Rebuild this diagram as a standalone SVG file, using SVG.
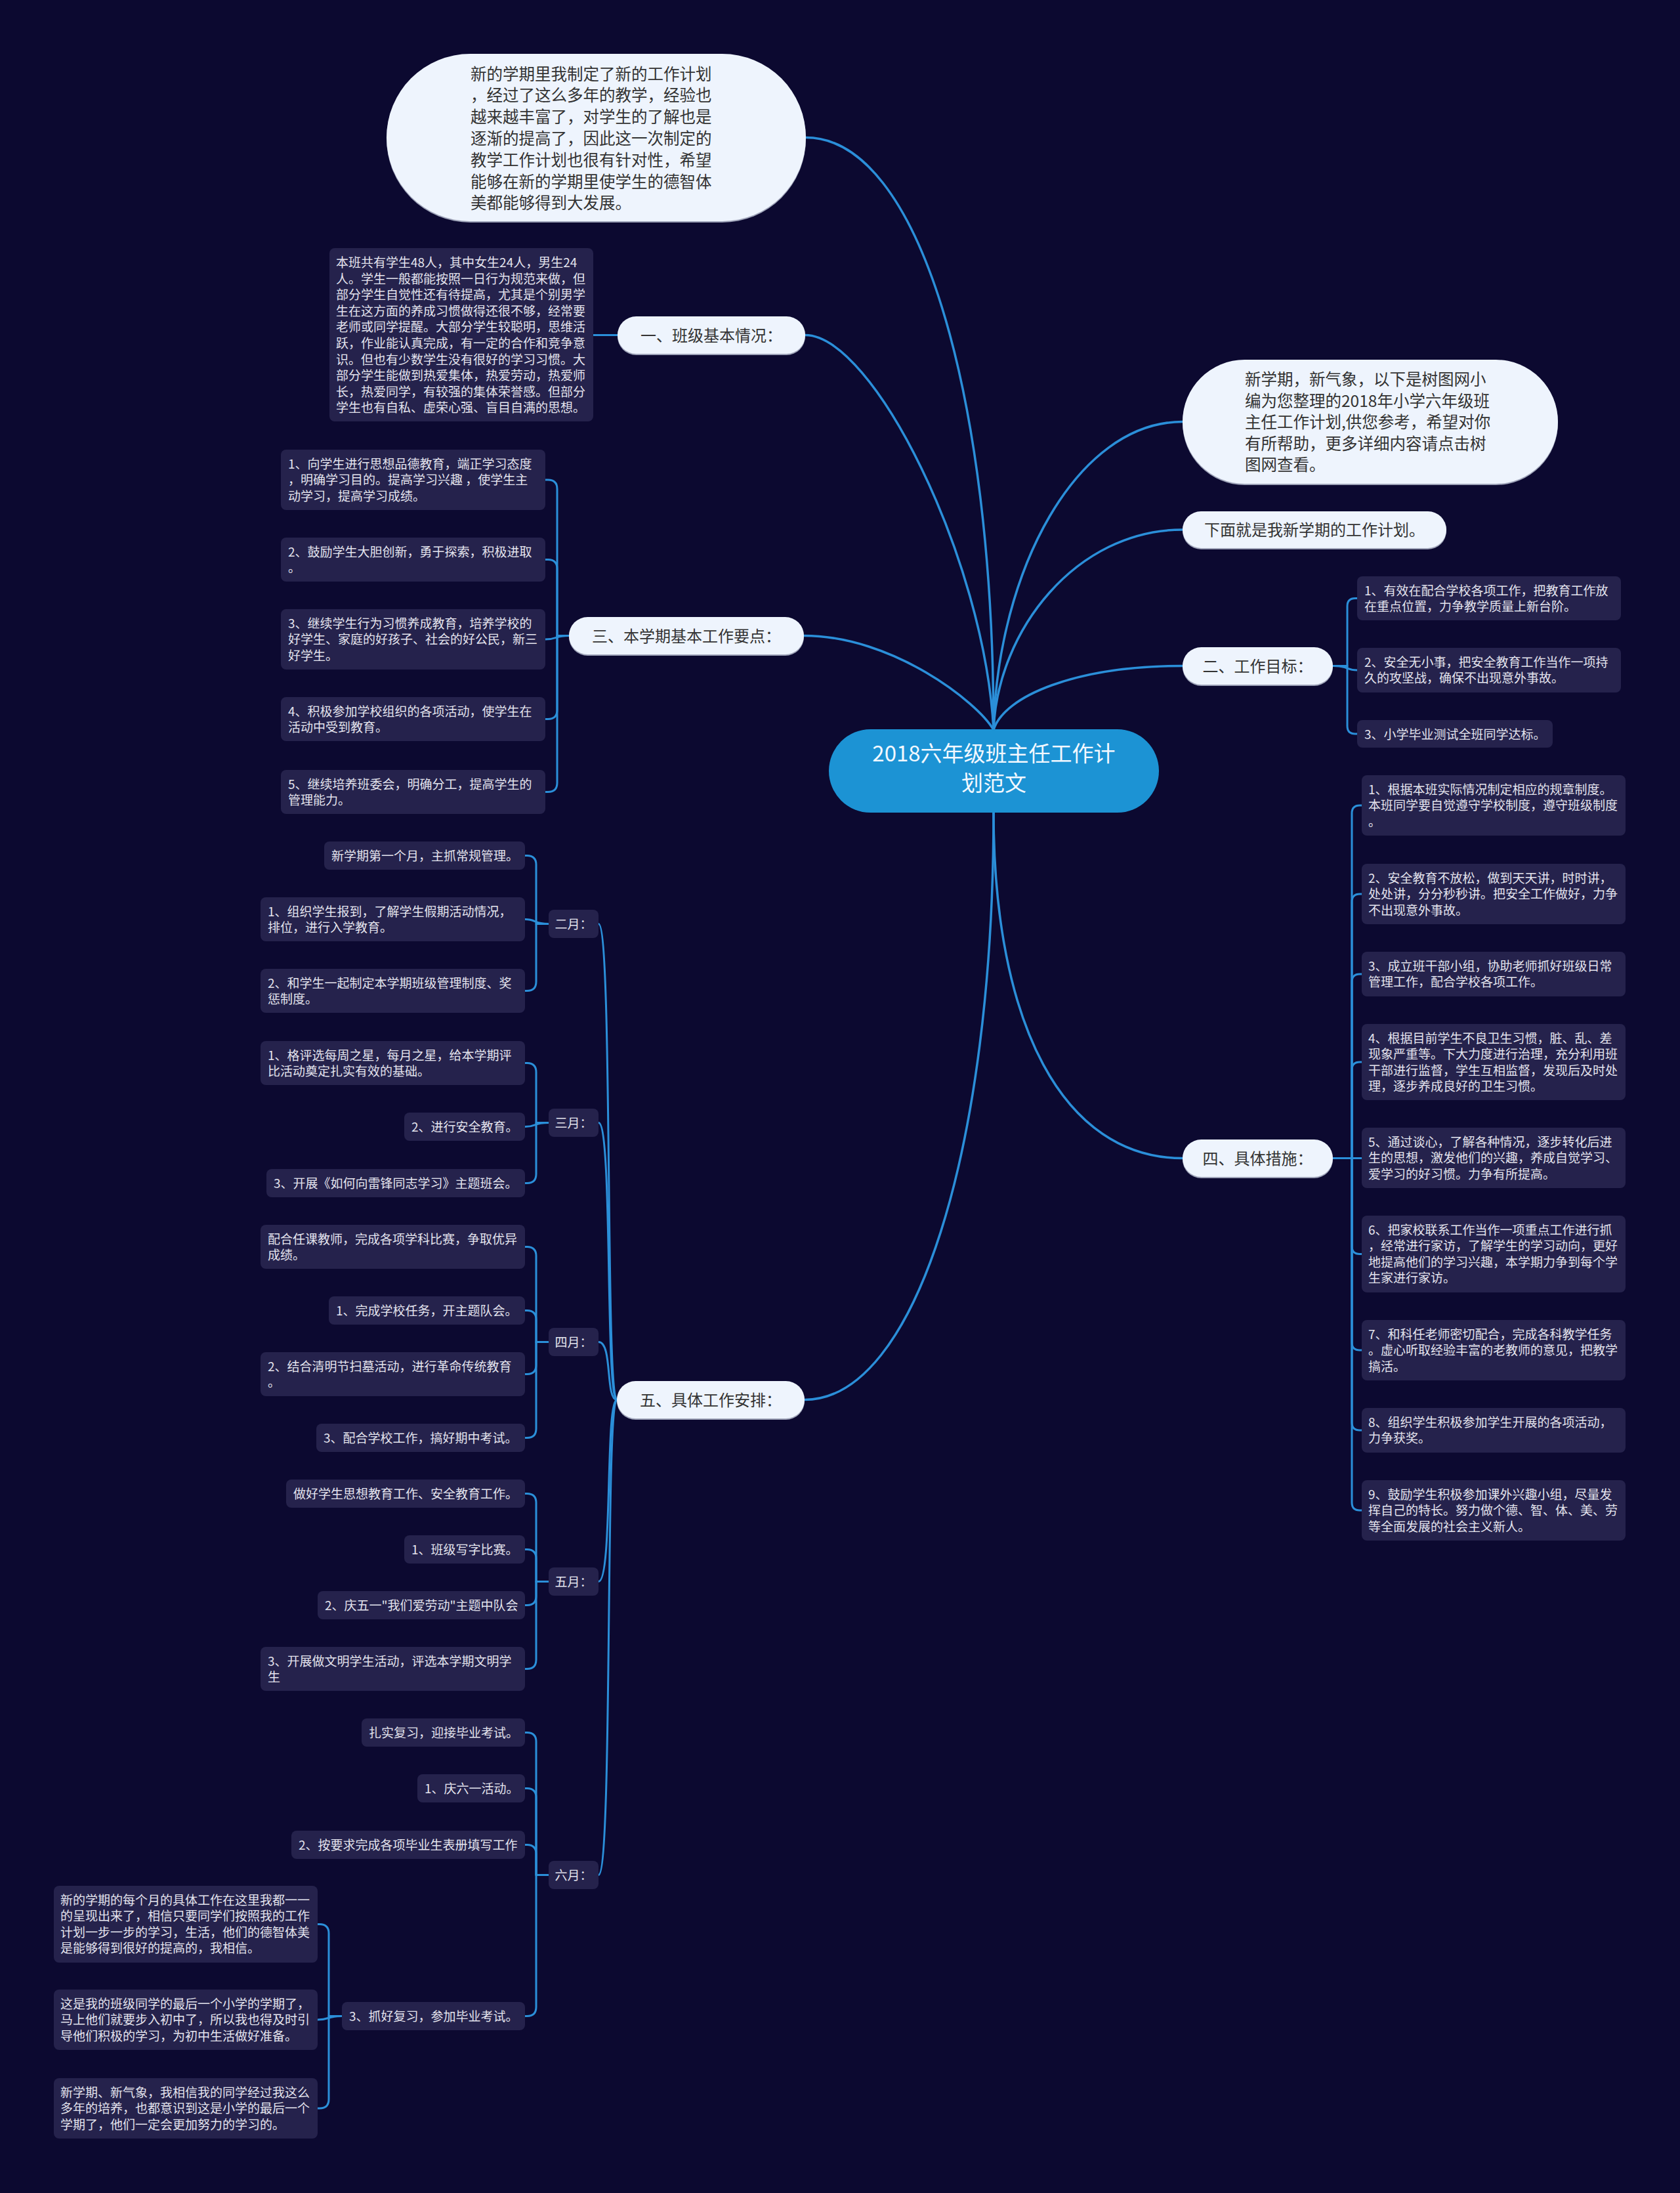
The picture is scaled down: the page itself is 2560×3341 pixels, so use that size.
<svg xmlns="http://www.w3.org/2000/svg" width="2560" height="3341" viewBox="0 0 2560 3341">
<style>
.bg{fill:#0c0930}
.card{fill:#25224c}
.ct{font-family:"Noto Sans CJK SC","Noto Sans",sans-serif;font-size:19px;fill:#e4e4ee}
.nd{fill:#eef4fd}
.sh{fill:#9ea3b8}
.nt{font-family:"Noto Sans CJK SC","Noto Sans",sans-serif;font-size:24px;fill:#333333}
.bt{font-family:"Noto Sans CJK SC","Noto Sans",sans-serif;font-size:24.5px;fill:#333333}
.mt{font-family:"Noto Sans CJK SC","Noto Sans",sans-serif;font-size:19px;fill:#e4e4ee;text-anchor:middle}
.ln{fill:none;stroke:#2b8fd9;stroke-width:3;stroke-linecap:round;stroke-linejoin:round}
.mn{fill:none;stroke:#2b8fd9;stroke-width:3.5;stroke-linecap:round}
</style>
<rect class="bg" x="0" y="0" width="2560" height="3341"/>

<g id="connectors">
<path class="mn" d="M1514 1112 C1514 600 1400 209.5 1228 209.5"/>
<path class="mn" d="M1514 1112 C1500 850 1330 510.5 1227 510.5"/>
<path class="mn" d="M1514 1112 C1490 1070 1360 968.5 1225 968.5"/>
<path class="mn" d="M1514 1112 C1520 870 1640 642.5 1802 642.5"/>
<path class="mn" d="M1514 1112 C1520 960 1640 807 1802 807"/>
<path class="mn" d="M1514 1112 C1530 1060 1640 1014.5 1802 1014.5"/>
<path class="mn" d="M1514 1237 C1514 1560 1620 1764.5 1802 1764.5"/>
<path class="mn" d="M1514 1237 C1514 1750 1395 2132.5 1226 2132.5"/>

<path class="ln" d="M904 510.5 H941"/>

<path class="ln" d="M867 968.5 H849 V745 Q849 731 835 731 H831"/>
<path class="ln" d="M867 968.5 H849 V866.5 Q849 852.5 835 852.5 H831"/>
<path class="ln" d="M867 968.5 C845 968.5 850 974 831 974"/>
<path class="ln" d="M867 968.5 H849 V1081.5 Q849 1095.5 835 1095.5 H831"/>
<path class="ln" d="M867 968.5 H849 V1192.5 Q849 1206.5 835 1206.5 H831"/>

<path class="ln" d="M940 2132.5 C922 2132.5 934 1407.5 912 1407.5"/>
<path class="ln" d="M940 2132.5 C922 2132.5 934 1710.5 912 1710.5"/>
<path class="ln" d="M940 2132.5 C922 2132.5 934 2044.5 912 2044.5"/>
<path class="ln" d="M940 2132.5 C922 2132.5 934 2409.5 912 2409.5"/>
<path class="ln" d="M940 2132.5 C922 2132.5 934 2856.5 912 2856.5"/>

<path class="ln" d="M836 1407.5 H817 V1317.5 Q817 1303.5 803 1303.5 H800"/>
<path class="ln" d="M836 1407.5 C812 1407.5 818 1400.5 800 1400.5"/>
<path class="ln" d="M836 1407.5 H817 V1495.5 Q817 1509.5 803 1509.5 H800"/>

<path class="ln" d="M836 1710.5 H817 V1633.5 Q817 1619.5 803 1619.5 H800"/>
<path class="ln" d="M836 1710.5 C812 1710.5 818 1716.5 800 1716.5"/>
<path class="ln" d="M836 1710.5 H817 V1788.5 Q817 1802.5 803 1802.5 H800"/>

<path class="ln" d="M836 2044.5 H817 V1913.5 Q817 1899.5 803 1899.5 H800"/>
<path class="ln" d="M836 2044.5 H817 V2010.5 Q817 1996.5 803 1996.5 H800"/>
<path class="ln" d="M836 2044.5 H817 V2079.5 Q817 2093.5 803 2093.5 H800"/>
<path class="ln" d="M836 2044.5 H817 V2176.5 Q817 2190.5 803 2190.5 H800"/>

<path class="ln" d="M836 2409.5 H817 V2289.5 Q817 2275.5 803 2275.5 H800"/>
<path class="ln" d="M836 2409.5 H817 V2374.5 Q817 2360.5 803 2360.5 H800"/>
<path class="ln" d="M836 2409.5 H817 V2431.5 Q817 2445.5 803 2445.5 H800"/>
<path class="ln" d="M836 2409.5 H817 V2528.5 Q817 2542.5 803 2542.5 H800"/>

<path class="ln" d="M836 2856.5 H817 V2653.5 Q817 2639.5 803 2639.5 H800"/>
<path class="ln" d="M836 2856.5 H817 V2738.5 Q817 2724.5 803 2724.5 H800"/>
<path class="ln" d="M836 2856.5 H817 V2824.5 Q817 2810.5 803 2810.5 H800"/>
<path class="ln" d="M836 2856.5 H817 V3057.5 Q817 3071.5 803 3071.5 H800"/>

<path class="ln" d="M521 3071.5 H501 V2945.5 Q501 2931.5 487 2931.5 H484"/>
<path class="ln" d="M521 3071.5 C497 3071.5 503 3077 484 3077"/>
<path class="ln" d="M521 3071.5 H501 V3198 Q501 3212 487 3212 H484"/>

<path class="ln" d="M2031 1014.5 H2053 V923.5 Q2053 911.5 2065 911.5 H2068"/>
<path class="ln" d="M2031 1014.5 C2056 1014.5 2050 1021 2068 1021"/>
<path class="ln" d="M2031 1014.5 H2053 V1106 Q2053 1118 2065 1118 H2068"/>

<path class="ln" d="M2031 1764.5 H2060 V1239 Q2060 1227 2072 1227 H2075"/>
<path class="ln" d="M2031 1764.5 H2060 V1374 Q2060 1362 2072 1362 H2075"/>
<path class="ln" d="M2031 1764.5 H2060 V1496 Q2060 1484 2072 1484 H2075"/>
<path class="ln" d="M2031 1764.5 H2060 V1630 Q2060 1618 2072 1618 H2075"/>
<path class="ln" d="M2031 1764.5 H2075"/>
<path class="ln" d="M2031 1764.5 H2060 V1898.5 Q2060 1910.5 2072 1910.5 H2075"/>
<path class="ln" d="M2031 1764.5 H2060 V2045 Q2060 2057 2072 2057 H2075"/>
<path class="ln" d="M2031 1764.5 H2060 V2167 Q2060 2179 2072 2179 H2075"/>
<path class="ln" d="M2031 1764.5 H2060 V2289 Q2060 2301 2072 2301 H2075"/>
</g>

<g id="center">
<rect x="1263" y="1111" width="503" height="127" rx="63.5" fill="#1c93d4"/>
<text x="1514.5" y="1160" font-family="Noto Sans CJK SC, Noto Sans, sans-serif" font-size="33" fill="#f2f8ff" text-anchor="middle">2018六年级班主任工作计</text>
<text x="1514.5" y="1205" font-family="Noto Sans CJK SC, Noto Sans, sans-serif" font-size="33" fill="#f2f8ff" text-anchor="middle">划范文</text>
</g>

<g id="bubble-top">
<rect class="sh" x="589" y="84" width="639" height="255" rx="127.5"/>
<rect class="nd" x="589" y="82" width="639" height="255" rx="127.5"/>
<text class="bt" x="717" y="121.5">新的学期里我制定了新的工作计划</text>
<text class="bt" x="717" y="154.3">，经过了这么多年的教学，经验也</text>
<text class="bt" x="717" y="187.1">越来越丰富了，对学生的了解也是</text>
<text class="bt" x="717" y="219.9">逐渐的提高了，因此这一次制定的</text>
<text class="bt" x="717" y="252.7">教学工作计划也很有针对性，希望</text>
<text class="bt" x="717" y="285.5">能够在新的学期里使学生的德智体</text>
<text class="bt" x="717" y="318.3">美都能够得到大发展。</text>
</g>

<g id="node-1">
<rect class="sh" x="941" y="484" width="286" height="57" rx="28.5"/>
<rect class="nd" x="941" y="482" width="286" height="57" rx="28.5"/>
<text class="nt" x="1084" y="519.5" text-anchor="middle">一、班级基本情况：</text>
</g>
<g id="node-1-text">
<rect class="card" x="502" y="378" width="402" height="264" rx="8"/>
<text class="ct" x="512" y="407">本班共有学生48人，其中女生24人，男生24</text>
<text class="ct" x="512" y="431.6">人。学生一般都能按照一日行为规范来做，但</text>
<text class="ct" x="512" y="456.2">部分学生自觉性还有待提高，尤其是个别男学</text>
<text class="ct" x="512" y="480.8">生在这方面的养成习惯做得还很不够，经常要</text>
<text class="ct" x="512" y="505.4">老师或同学提醒。大部分学生较聪明，思维活</text>
<text class="ct" x="512" y="530">跃，作业能认真完成，有一定的合作和竞争意</text>
<text class="ct" x="512" y="554.6">识。但也有少数学生没有很好的学习习惯。大</text>
<text class="ct" x="512" y="579.2">部分学生能做到热爱集体，热爱劳动，热爱师</text>
<text class="ct" x="512" y="603.8">长，热爱同学，有较强的集体荣誉感。但部分</text>
<text class="ct" x="512" y="628.4">学生也有自私、虚荣心强、盲目自满的思想。</text>
</g>

<g id="node-3">
<rect class="sh" x="867" y="942" width="358" height="57" rx="28.5"/>
<rect class="nd" x="867" y="940" width="358" height="57" rx="28.5"/>
<text class="nt" x="1046" y="977.5" text-anchor="middle">三、本学期基本工作要点：</text>
</g>
<g id="node-3-1">
<rect class="card" x="428" y="685" width="403" height="92" rx="8"/>
<text class="ct" x="439" y="713.5">1、向学生进行思想品德教育，端正学习态度</text>
<text class="ct" x="439" y="738">，明确学习目的。提高学习兴趣 ，使学生主</text>
<text class="ct" x="439" y="762.5">动学习，提高学习成绩。</text>
</g>
<g id="node-3-2">
<rect class="card" x="428" y="819" width="403" height="67" rx="8"/>
<text class="ct" x="439" y="847.5">2、鼓励学生大胆创新，勇于探索，积极进取</text>
<text class="ct" x="439" y="872">。</text>
</g>
<g id="node-3-3">
<rect class="card" x="428" y="928" width="403" height="92" rx="8"/>
<text class="ct" x="439" y="956.5">3、继续学生行为习惯养成教育，培养学校的</text>
<text class="ct" x="439" y="981">好学生、家庭的好孩子、社会的好公民，新三</text>
<text class="ct" x="439" y="1005.5">好学生。</text>
</g>
<g id="node-3-4">
<rect class="card" x="428" y="1062" width="403" height="67" rx="8"/>
<text class="ct" x="439" y="1090.5">4、积极参加学校组织的各项活动，使学生在</text>
<text class="ct" x="439" y="1115">活动中受到教育。</text>
</g>
<g id="node-3-5">
<rect class="card" x="428" y="1173" width="403" height="67" rx="8"/>
<text class="ct" x="439" y="1201.5">5、继续培养班委会，明确分工，提高学生的</text>
<text class="ct" x="439" y="1226">管理能力。</text>
</g>

<g id="node-5">
<rect class="sh" x="940" y="2106" width="286" height="57" rx="28.5"/>
<rect class="nd" x="940" y="2104" width="286" height="57" rx="28.5"/>
<text class="nt" x="1083" y="2141.5" text-anchor="middle">五、具体工作安排：</text>
</g>

<g id="month-2">
<rect class="card" x="836" y="1386" width="76" height="43" rx="8"/>
<text class="mt" x="874" y="1414.5">二月：</text>
</g>
<g id="month-2-a"><rect class="card" x="494" y="1282" width="306" height="43" rx="8"/>
<text class="ct" x="505" y="1310.5">新学期第一个月，主抓常规管理。</text></g>
<g id="month-2-b"><rect class="card" x="397" y="1367" width="403" height="67" rx="8"/>
<text class="ct" x="408" y="1395.5">1、组织学生报到，了解学生假期活动情况，</text>
<text class="ct" x="408" y="1420">排位，进行入学教育。</text></g>
<g id="month-2-c"><rect class="card" x="397" y="1476" width="403" height="67" rx="8"/>
<text class="ct" x="408" y="1504.5">2、和学生一起制定本学期班级管理制度、奖</text>
<text class="ct" x="408" y="1529">惩制度。</text></g>

<g id="month-3">
<rect class="card" x="836" y="1689" width="76" height="43" rx="8"/>
<text class="mt" x="874" y="1717.5">三月：</text>
</g>
<g id="month-3-a"><rect class="card" x="397" y="1586" width="403" height="67" rx="8"/>
<text class="ct" x="408" y="1614.5">1、格评选每周之星，每月之星，给本学期评</text>
<text class="ct" x="408" y="1639">比活动奠定扎实有效的基础。</text></g>
<g id="month-3-b"><rect class="card" x="616" y="1695" width="184" height="43" rx="8"/>
<text class="ct" x="627" y="1723.5">2、进行安全教育。</text></g>
<g id="month-3-c"><rect class="card" x="406" y="1781" width="394" height="43" rx="8"/>
<text class="ct" x="417" y="1809.5">3、开展《如何向雷锋同志学习》主题班会。</text></g>

<g id="month-4">
<rect class="card" x="836" y="2023" width="76" height="43" rx="8"/>
<text class="mt" x="874" y="2051.5">四月：</text>
</g>
<g id="month-4-a"><rect class="card" x="397" y="1866" width="403" height="67" rx="8"/>
<text class="ct" x="408" y="1894.5">配合任课教师，完成各项学科比赛，争取优异</text>
<text class="ct" x="408" y="1919">成绩。</text></g>
<g id="month-4-b"><rect class="card" x="501" y="1975" width="299" height="43" rx="8"/>
<text class="ct" x="512" y="2003.5">1、完成学校任务，开主题队会。</text></g>
<g id="month-4-c"><rect class="card" x="397" y="2060" width="403" height="67" rx="8"/>
<text class="ct" x="408" y="2088.5">2、结合清明节扫墓活动，进行革命传统教育</text>
<text class="ct" x="408" y="2113">。</text></g>
<g id="month-4-d"><rect class="card" x="482" y="2169" width="318" height="43" rx="8"/>
<text class="ct" x="493" y="2197.5">3、配合学校工作，搞好期中考试。</text></g>

<g id="month-5">
<rect class="card" x="836" y="2388" width="76" height="43" rx="8"/>
<text class="mt" x="874" y="2416.5">五月：</text>
</g>
<g id="month-5-a"><rect class="card" x="436" y="2254" width="364" height="43" rx="8"/>
<text class="ct" x="447" y="2282.5">做好学生思想教育工作、安全教育工作。</text></g>
<g id="month-5-b"><rect class="card" x="616" y="2339" width="184" height="43" rx="8"/>
<text class="ct" x="627" y="2367.5">1、班级写字比赛。</text></g>
<g id="month-5-c"><rect class="card" x="484" y="2424" width="316" height="43" rx="8"/>
<text class="ct" x="495" y="2452.5">2、庆五一"我们爱劳动"主题中队会</text></g>
<g id="month-5-d"><rect class="card" x="397" y="2509" width="403" height="67" rx="8"/>
<text class="ct" x="408" y="2537.5">3、开展做文明学生活动，评选本学期文明学</text>
<text class="ct" x="408" y="2562">生</text></g>

<g id="month-6">
<rect class="card" x="836" y="2835" width="76" height="43" rx="8"/>
<text class="mt" x="874" y="2863.5">六月：</text>
</g>
<g id="month-6-a"><rect class="card" x="551" y="2618" width="249" height="43" rx="8"/>
<text class="ct" x="562" y="2646.5">扎实复习，迎接毕业考试。</text></g>
<g id="month-6-b"><rect class="card" x="636" y="2703" width="164" height="43" rx="8"/>
<text class="ct" x="647" y="2731.5">1、庆六一活动。</text></g>
<g id="month-6-c"><rect class="card" x="444" y="2789" width="356" height="43" rx="8"/>
<text class="ct" x="455" y="2817.5">2、按要求完成各项毕业生表册填写工作</text></g>
<g id="month-6-d"><rect class="card" x="521" y="3050" width="279" height="43" rx="8"/>
<text class="ct" x="532" y="3078.5">3、抓好复习，参加毕业考试。</text></g>
<g id="month-6-d-1"><rect class="card" x="82" y="2873" width="402" height="117" rx="8"/>
<text class="ct" x="92" y="2901.5">新的学期的每个月的具体工作在这里我都一一</text>
<text class="ct" x="92" y="2926">的呈现出来了，相信只要同学们按照我的工作</text>
<text class="ct" x="92" y="2950.5">计划一步一步的学习，生活，他们的德智体美</text>
<text class="ct" x="92" y="2975">是能够得到很好的提高的，我相信。</text></g>
<g id="month-6-d-2"><rect class="card" x="82" y="3031" width="402" height="92" rx="8"/>
<text class="ct" x="92" y="3059.5">这是我的班级同学的最后一个小学的学期了，</text>
<text class="ct" x="92" y="3084">马上他们就要步入初中了，所以我也得及时引</text>
<text class="ct" x="92" y="3108.5">导他们积极的学习，为初中生活做好准备。</text></g>
<g id="month-6-d-3"><rect class="card" x="82" y="3166" width="402" height="92" rx="8"/>
<text class="ct" x="92" y="3194.5">新学期、新气象，我相信我的同学经过我这么</text>
<text class="ct" x="92" y="3219">多年的培养，也都意识到这是小学的最后一个</text>
<text class="ct" x="92" y="3243.5">学期了，他们一定会更加努力的学习的。</text></g>

<g id="bubble-intro">
<rect class="sh" x="1802" y="550" width="572" height="189" rx="94.5"/>
<rect class="nd" x="1802" y="548" width="572" height="189" rx="94.5"/>
<text class="bt" x="1897" y="587">新学期，新气象，以下是树图网小</text>
<text class="bt" x="1897" y="619.5">编为您整理的2018年小学六年级班</text>
<text class="bt" x="1897" y="652">主任工作计划,供您参考，希望对你</text>
<text class="bt" x="1897" y="684.5">有所帮助，更多详细内容请点击树</text>
<text class="bt" x="1897" y="717">图网查看。</text>
</g>

<g id="node-plan">
<rect class="sh" x="1802" y="781" width="402" height="56" rx="28"/>
<rect class="nd" x="1802" y="779" width="402" height="56" rx="28"/>
<text class="nt" x="2003" y="816" text-anchor="middle">下面就是我新学期的工作计划。</text>
</g>

<g id="node-2">
<rect class="sh" x="1802" y="988" width="229" height="57" rx="28.5"/>
<rect class="nd" x="1802" y="986" width="229" height="57" rx="28.5"/>
<text class="nt" x="1916.5" y="1023.5" text-anchor="middle">二、工作目标：</text>
</g>
<g id="node-2-1"><rect class="card" x="2068" y="878" width="402" height="67" rx="8"/>
<text class="ct" x="2079" y="906.5">1、有效在配合学校各项工作，把教育工作放</text>
<text class="ct" x="2079" y="931">在重点位置，力争教学质量上新台阶。</text></g>
<g id="node-2-2"><rect class="card" x="2068" y="987" width="402" height="68" rx="8"/>
<text class="ct" x="2079" y="1015.5">2、安全无小事，把安全教育工作当作一项持</text>
<text class="ct" x="2079" y="1040">久的攻坚战，确保不出现意外事故。</text></g>
<g id="node-2-3"><rect class="card" x="2068" y="1097" width="298" height="42" rx="8"/>
<text class="ct" x="2079" y="1125.5">3、小学毕业测试全班同学达标。</text></g>

<g id="node-4">
<rect class="sh" x="1802" y="1738" width="229" height="57" rx="28.5"/>
<rect class="nd" x="1802" y="1736" width="229" height="57" rx="28.5"/>
<text class="nt" x="1916.5" y="1773.5" text-anchor="middle">四、具体措施：</text>
</g>
<g id="node-4-1"><rect class="card" x="2075" y="1181" width="402" height="92" rx="8"/>
<text class="ct" x="2085" y="1209.5">1、根据本班实际情况制定相应的规章制度。</text>
<text class="ct" x="2085" y="1234">本班同学要自觉遵守学校制度，遵守班级制度</text>
<text class="ct" x="2085" y="1258.5">。</text></g>
<g id="node-4-2"><rect class="card" x="2075" y="1316" width="402" height="92" rx="8"/>
<text class="ct" x="2085" y="1344.5">2、安全教育不放松，做到天天讲，时时讲，</text>
<text class="ct" x="2085" y="1369">处处讲，分分秒秒讲。把安全工作做好，力争</text>
<text class="ct" x="2085" y="1393.5">不出现意外事故。</text></g>
<g id="node-4-3"><rect class="card" x="2075" y="1450" width="402" height="68" rx="8"/>
<text class="ct" x="2085" y="1478.5">3、成立班干部小组，协助老师抓好班级日常</text>
<text class="ct" x="2085" y="1503">管理工作，配合学校各项工作。</text></g>
<g id="node-4-4"><rect class="card" x="2075" y="1560" width="402" height="116" rx="8"/>
<text class="ct" x="2085" y="1588.5">4、根据目前学生不良卫生习惯，脏、乱、差</text>
<text class="ct" x="2085" y="1613">现象严重等。下大力度进行治理，充分利用班</text>
<text class="ct" x="2085" y="1637.5">干部进行监督，学生互相监督，发现后及时处</text>
<text class="ct" x="2085" y="1662">理，逐步养成良好的卫生习惯。</text></g>
<g id="node-4-5"><rect class="card" x="2075" y="1718" width="402" height="92" rx="8"/>
<text class="ct" x="2085" y="1746.5">5、通过谈心，了解各种情况，逐步转化后进</text>
<text class="ct" x="2085" y="1771">生的思想，激发他们的兴趣，养成自觉学习、</text>
<text class="ct" x="2085" y="1795.5">爱学习的好习惯。力争有所提高。</text></g>
<g id="node-4-6"><rect class="card" x="2075" y="1852" width="402" height="117" rx="8"/>
<text class="ct" x="2085" y="1880.5">6、把家校联系工作当作一项重点工作进行抓</text>
<text class="ct" x="2085" y="1905">，经常进行家访，了解学生的学习动向，更好</text>
<text class="ct" x="2085" y="1929.5">地提高他们的学习兴趣，本学期力争到每个学</text>
<text class="ct" x="2085" y="1954">生家进行家访。</text></g>
<g id="node-4-7"><rect class="card" x="2075" y="2011" width="402" height="92" rx="8"/>
<text class="ct" x="2085" y="2039.5">7、和科任老师密切配合，完成各科教学任务</text>
<text class="ct" x="2085" y="2064">。虚心听取经验丰富的老教师的意见，把教学</text>
<text class="ct" x="2085" y="2088.5">搞活。</text></g>
<g id="node-4-8"><rect class="card" x="2075" y="2145" width="402" height="68" rx="8"/>
<text class="ct" x="2085" y="2173.5">8、组织学生积极参加学生开展的各项活动，</text>
<text class="ct" x="2085" y="2198">力争获奖。</text></g>
<g id="node-4-9"><rect class="card" x="2075" y="2255" width="402" height="92" rx="8"/>
<text class="ct" x="2085" y="2283.5">9、鼓励学生积极参加课外兴趣小组，尽量发</text>
<text class="ct" x="2085" y="2308">挥自己的特长。努力做个德、智、体、美、劳</text>
<text class="ct" x="2085" y="2332.5">等全面发展的社会主义新人。</text></g>
</svg>
